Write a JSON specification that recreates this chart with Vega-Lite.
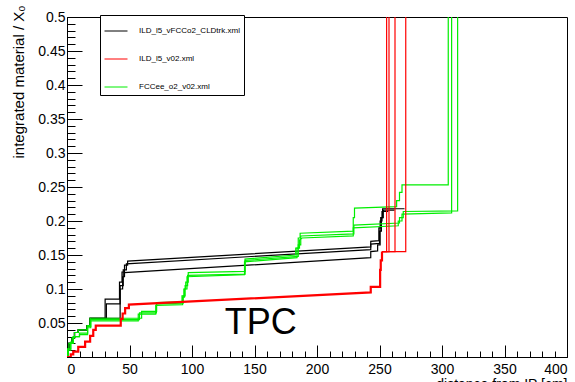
{
"$schema": "https://vega.github.io/schema/vega-lite/v6.json",
"width": 500, "height": 340,
"autosize": "none",
"padding": {"left": 67, "top": 17, "right": 8, "bottom": 25},
"background": "white",
"config": {
  "view": {"stroke": "black", "strokeWidth": 1},
  "axis": {"labelFont": "Liberation Sans", "labelFontSize": 14, "labelColor": "black", "tickColor": "black", "tickWidth": 1, "domain": false, "grid": false, "titleFont": "Liberation Sans", "titleColor": "black", "titleFontWeight": "normal"}
},
"datasets": {
  "ser": [
    {"s": "B1", "m": "ILD_l5_vFCCo2_CLDtrk.xml"}, {"s": "B2", "m": "ILD_l5_vFCCo2_CLDtrk.xml"}, {"s": "B3", "m": "ILD_l5_vFCCo2_CLDtrk.xml"},
    {"s": "R0", "m": "ILD_l5_v02.xml"}, {"s": "R1", "m": "ILD_l5_v02.xml"}, {"s": "R2", "m": "ILD_l5_v02.xml"}, {"s": "R3", "m": "ILD_l5_v02.xml"}, {"s": "R4", "m": "ILD_l5_v02.xml"},
    {"s": "G1", "m": "FCCee_o2_v02.xml"}, {"s": "G2", "m": "FCCee_o2_v02.xml"}, {"s": "G3", "m": "FCCee_o2_v02.xml"}
  ],
  "pts": [
    {"s":"B1","x":0,"y":0},{"s":"B1","x":0.5,"y":0},{"s":"B1","x":0.5,"y":0.012},{"s":"B1","x":1.5,"y":0.012},{"s":"B1","x":1.5,"y":0.02},{"s":"B1","x":4,"y":0.02},{"s":"B1","x":4,"y":0.028},{"s":"B1","x":6,"y":0.028},{"s":"B1","x":6,"y":0.036},{"s":"B1","x":9,"y":0.036},{"s":"B1","x":9,"y":0.04},{"s":"B1","x":16,"y":0.04},{"s":"B1","x":16,"y":0.046},{"s":"B1","x":18.4,"y":0.046},{"s":"B1","x":18.4,"y":0.057},{"s":"B1","x":30.5,"y":0.057},{"s":"B1","x":30.5,"y":0.085},{"s":"B1","x":42,"y":0.085},{"s":"B1","x":42,"y":0.11},{"s":"B1","x":44,"y":0.11},{"s":"B1","x":44,"y":0.125},{"s":"B1","x":46,"y":0.125},{"s":"B1","x":46,"y":0.135},{"s":"B1","x":48.5,"y":0.135},{"s":"B1","x":48.5,"y":0.141},{"s":"B1","x":243,"y":0.162},{"s":"B1","x":243,"y":0.17},{"s":"B1","x":249.5,"y":0.171},{"s":"B1","x":249.5,"y":0.19},{"s":"B1","x":251,"y":0.19},{"s":"B1","x":251,"y":0.205},{"s":"B1","x":252.5,"y":0.205},{"s":"B1","x":252.5,"y":0.218},{"s":"B1","x":270,"y":0.218},
    {"s":"B2","x":0,"y":0},{"s":"B2","x":0.5,"y":0},{"s":"B2","x":0.5,"y":0.012},{"s":"B2","x":1.5,"y":0.012},{"s":"B2","x":1.5,"y":0.02},{"s":"B2","x":4,"y":0.02},{"s":"B2","x":4,"y":0.028},{"s":"B2","x":6,"y":0.028},{"s":"B2","x":6,"y":0.036},{"s":"B2","x":9,"y":0.036},{"s":"B2","x":9,"y":0.04},{"s":"B2","x":16,"y":0.04},{"s":"B2","x":16,"y":0.046},{"s":"B2","x":18.4,"y":0.046},{"s":"B2","x":18.4,"y":0.057},{"s":"B2","x":31.5,"y":0.057},{"s":"B2","x":31.5,"y":0.078},{"s":"B2","x":42.5,"y":0.078},{"s":"B2","x":42.5,"y":0.105},{"s":"B2","x":45,"y":0.105},{"s":"B2","x":45,"y":0.128},{"s":"B2","x":47.5,"y":0.128},{"s":"B2","x":47.5,"y":0.137},{"s":"B2","x":243,"y":0.158},{"s":"B2","x":243,"y":0.166},{"s":"B2","x":250,"y":0.167},{"s":"B2","x":250,"y":0.185},{"s":"B2","x":251.5,"y":0.185},{"s":"B2","x":251.5,"y":0.205},{"s":"B2","x":253,"y":0.205},{"s":"B2","x":253,"y":0.216},{"s":"B2","x":262,"y":0.216},
    {"s":"B3","x":0,"y":0},{"s":"B3","x":0.5,"y":0},{"s":"B3","x":0.5,"y":0.012},{"s":"B3","x":1.5,"y":0.012},{"s":"B3","x":1.5,"y":0.02},{"s":"B3","x":4,"y":0.02},{"s":"B3","x":4,"y":0.028},{"s":"B3","x":6,"y":0.028},{"s":"B3","x":6,"y":0.036},{"s":"B3","x":9,"y":0.036},{"s":"B3","x":9,"y":0.04},{"s":"B3","x":16,"y":0.04},{"s":"B3","x":16,"y":0.046},{"s":"B3","x":18.4,"y":0.046},{"s":"B3","x":18.4,"y":0.057},{"s":"B3","x":42.5,"y":0.057},{"s":"B3","x":42.5,"y":0.1},{"s":"B3","x":44.5,"y":0.1},{"s":"B3","x":44.5,"y":0.118},{"s":"B3","x":46,"y":0.118},{"s":"B3","x":46,"y":0.124},{"s":"B3","x":243,"y":0.146},{"s":"B3","x":243,"y":0.155},{"s":"B3","x":248.5,"y":0.156},{"s":"B3","x":248.5,"y":0.165},{"s":"B3","x":250.5,"y":0.165},{"s":"B3","x":250.5,"y":0.2},{"s":"B3","x":252,"y":0.2},{"s":"B3","x":252,"y":0.214},{"s":"B3","x":257,"y":0.214},
    {"s":"G1","x":0,"y":0},{"s":"G1","x":0.5,"y":0},{"s":"G1","x":0.5,"y":0.012},{"s":"G1","x":1.5,"y":0.012},{"s":"G1","x":1.5,"y":0.02},{"s":"G1","x":4,"y":0.02},{"s":"G1","x":4,"y":0.028},{"s":"G1","x":6,"y":0.028},{"s":"G1","x":6,"y":0.036},{"s":"G1","x":9,"y":0.036},{"s":"G1","x":9,"y":0.04},{"s":"G1","x":16,"y":0.04},{"s":"G1","x":16,"y":0.046},{"s":"G1","x":18.4,"y":0.046},{"s":"G1","x":18.4,"y":0.057},{"s":"G1","x":59.7,"y":0.057},{"s":"G1","x":59.7,"y":0.067},{"s":"G1","x":71.7,"y":0.067},{"s":"G1","x":71.7,"y":0.08},{"s":"G1","x":92,"y":0.081},{"s":"G1","x":92,"y":0.09},{"s":"G1","x":93.5,"y":0.09},{"s":"G1","x":93.5,"y":0.1},{"s":"G1","x":95,"y":0.1},{"s":"G1","x":95,"y":0.11},{"s":"G1","x":97,"y":0.11},{"s":"G1","x":97,"y":0.124},{"s":"G1","x":142.4,"y":0.126},{"s":"G1","x":142.4,"y":0.144},{"s":"G1","x":183,"y":0.15},{"s":"G1","x":183,"y":0.16},{"s":"G1","x":185,"y":0.16},{"s":"G1","x":185,"y":0.175},{"s":"G1","x":186.5,"y":0.175},{"s":"G1","x":186.5,"y":0.182},{"s":"G1","x":229,"y":0.185},{"s":"G1","x":229,"y":0.205},{"s":"G1","x":230,"y":0.205},{"s":"G1","x":230,"y":0.219},{"s":"G1","x":263.7,"y":0.221},{"s":"G1","x":263.7,"y":0.23},{"s":"G1","x":266,"y":0.23},{"s":"G1","x":266,"y":0.242},{"s":"G1","x":268,"y":0.242},{"s":"G1","x":268,"y":0.253},{"s":"G1","x":305,"y":0.253},{"s":"G1","x":305,"y":0.6},
    {"s":"G2","x":0,"y":0},{"s":"G2","x":1,"y":0},{"s":"G2","x":1,"y":0.01},{"s":"G2","x":3,"y":0.01},{"s":"G2","x":3,"y":0.02},{"s":"G2","x":5,"y":0.02},{"s":"G2","x":5,"y":0.03},{"s":"G2","x":10,"y":0.03},{"s":"G2","x":10,"y":0.033},{"s":"G2","x":16.5,"y":0.033},{"s":"G2","x":16.5,"y":0.043},{"s":"G2","x":19,"y":0.043},{"s":"G2","x":19,"y":0.053},{"s":"G2","x":57,"y":0.053},{"s":"G2","x":57,"y":0.063},{"s":"G2","x":71,"y":0.063},{"s":"G2","x":71,"y":0.076},{"s":"G2","x":92.5,"y":0.077},{"s":"G2","x":92.5,"y":0.088},{"s":"G2","x":94,"y":0.088},{"s":"G2","x":94,"y":0.1},{"s":"G2","x":96,"y":0.1},{"s":"G2","x":96,"y":0.118},{"s":"G2","x":142,"y":0.121},{"s":"G2","x":142,"y":0.14},{"s":"G2","x":184,"y":0.146},{"s":"G2","x":184,"y":0.16},{"s":"G2","x":186,"y":0.16},{"s":"G2","x":186,"y":0.172},{"s":"G2","x":188,"y":0.175},{"s":"G2","x":229,"y":0.178},{"s":"G2","x":229,"y":0.19},{"s":"G2","x":265,"y":0.193},{"s":"G2","x":265,"y":0.2},{"s":"G2","x":268,"y":0.2},{"s":"G2","x":268,"y":0.21},{"s":"G2","x":307.7,"y":0.212},{"s":"G2","x":307.7,"y":0.6},
    {"s":"G3","x":0,"y":0},{"s":"G3","x":1,"y":0},{"s":"G3","x":1,"y":0.012},{"s":"G3","x":3,"y":0.012},{"s":"G3","x":3,"y":0.022},{"s":"G3","x":5,"y":0.022},{"s":"G3","x":5,"y":0.03},{"s":"G3","x":10,"y":0.03},{"s":"G3","x":10,"y":0.035},{"s":"G3","x":16.5,"y":0.035},{"s":"G3","x":16.5,"y":0.045},{"s":"G3","x":19,"y":0.045},{"s":"G3","x":19,"y":0.055},{"s":"G3","x":58,"y":0.055},{"s":"G3","x":58,"y":0.065},{"s":"G3","x":71.5,"y":0.065},{"s":"G3","x":71.5,"y":0.078},{"s":"G3","x":93,"y":0.079},{"s":"G3","x":93,"y":0.09},{"s":"G3","x":94.5,"y":0.09},{"s":"G3","x":94.5,"y":0.105},{"s":"G3","x":96.5,"y":0.105},{"s":"G3","x":96.5,"y":0.12},{"s":"G3","x":142.5,"y":0.122},{"s":"G3","x":142.5,"y":0.142},{"s":"G3","x":185,"y":0.148},{"s":"G3","x":185,"y":0.165},{"s":"G3","x":187,"y":0.165},{"s":"G3","x":187,"y":0.178},{"s":"G3","x":229.5,"y":0.181},{"s":"G3","x":229.5,"y":0.194},{"s":"G3","x":266,"y":0.197},{"s":"G3","x":266,"y":0.205},{"s":"G3","x":269,"y":0.205},{"s":"G3","x":269,"y":0.214},{"s":"G3","x":312.5,"y":0.215},{"s":"G3","x":312.5,"y":0.6},
    {"s":"R0","x":0,"y":0},{"s":"R0","x":3,"y":0},{"s":"R0","x":3,"y":0.004},{"s":"R0","x":5,"y":0.004},{"s":"R0","x":5,"y":0.008},{"s":"R0","x":9,"y":0.008},{"s":"R0","x":9,"y":0.015},{"s":"R0","x":14.5,"y":0.015},{"s":"R0","x":14.5,"y":0.0225},{"s":"R0","x":18.5,"y":0.0225},{"s":"R0","x":18.5,"y":0.031},{"s":"R0","x":21,"y":0.031},{"s":"R0","x":21,"y":0.04},{"s":"R0","x":23,"y":0.04},{"s":"R0","x":23,"y":0.046},{"s":"R0","x":43,"y":0.046},{"s":"R0","x":43,"y":0.056},{"s":"R0","x":44.5,"y":0.056},{"s":"R0","x":44.5,"y":0.064},{"s":"R0","x":46.5,"y":0.064},{"s":"R0","x":46.5,"y":0.072},{"s":"R0","x":49.5,"y":0.072},{"s":"R0","x":49.5,"y":0.077},{"s":"R0","x":243,"y":0.095},{"s":"R0","x":243,"y":0.103},{"s":"R0","x":250.5,"y":0.103},{"s":"R0","x":250.5,"y":0.128},{"s":"R0","x":251,"y":0.128},{"s":"R0","x":251,"y":0.142},{"s":"R0","x":252,"y":0.142},{"s":"R0","x":252,"y":0.155},
    {"s":"R1","x":252,"y":0.155},{"s":"R1","x":255.7,"y":0.155},{"s":"R1","x":255.7,"y":0.6},
    {"s":"R2","x":252,"y":0.155},{"s":"R2","x":257.6,"y":0.155},{"s":"R2","x":257.6,"y":0.6},
    {"s":"R3","x":252,"y":0.155},{"s":"R3","x":262.4,"y":0.155},{"s":"R3","x":262.4,"y":0.6},
    {"s":"R4","x":252,"y":0.155},{"s":"R4","x":271,"y":0.155},{"s":"R4","x":271,"y":0.6}
  ]
},
"resolve": {"axis": {"x": "independent", "y": "independent"}},
"layer": [
  {
    "data": {"name": "pts"},
    "transform": [
      {"filter": "indexof(datum.s, 'B') == 0"},
      {"lookup": "s", "from": {"data": {"name": "ser"}, "key": "s", "fields": ["m"]}}
    ],
    "mark": {"type": "line", "clip": true, "strokeWidth": 1.2},
    "encoding": {
      "x": {"field": "x", "type": "quantitative", "scale": {"domain": [0, 400], "nice": false},
        "axis": {"orient": "bottom", "values": [0, 50, 100, 150, 200, 250, 300, 350, 400], "tickSize": -12, "labelPadding": 17, "labelBaseline": "top", "format": "d",
          "title": "distance from IP [cm]", "titleFontSize": 14, "titleX": 500, "titleY": 20, "titleAlign": "right", "titleBaseline": "top", "titleAnchor": null}},
      "y": {"field": "y", "type": "quantitative", "scale": {"domain": [0, 0.5], "nice": false},
        "axis": {"orient": "left", "values": [0, 0.05, 0.1, 0.15, 0.2, 0.25, 0.3, 0.35, 0.4, 0.45, 0.5], "tickSize": -15, "labelPadding": 17, "format": "~g",
          "labelExpr": "datum.value == 0 ? '' : datum.label",
          "title": "integrated material / X₀", "titleFontSize": 15, "titleAngle": -90, "titleX": -44, "titleY": -12, "titleAlign": "right", "titleBaseline": "alphabetic", "titleAnchor": null}},
      "color": {"field": "m", "type": "nominal", "title": null,
        "scale": {"domain": ["ILD_l5_vFCCo2_CLDtrk.xml", "ILD_l5_v02.xml", "FCCee_o2_v02.xml"], "range": ["#000000", "#ff0000", "#00ee00"]},
        "legend": {"orient": "none", "legendX": 33, "legendY": -2, "padding": 4, "strokeColor": "black", "fillColor": "white", "symbolType": "stroke", "symbolSize": 529, "symbolStrokeWidth": 1, "labelFont": "Liberation Sans", "labelFontSize": 8, "labelColor": "black", "labelOffset": 11, "rowPadding": 12}},
      "detail": {"field": "s", "type": "nominal"},
      "order": {"value": null}
    }
  },
  {
    "data": {"name": "pts"},
    "transform": [
      {"filter": "indexof(datum.s, 'G') == 0"},
      {"lookup": "s", "from": {"data": {"name": "ser"}, "key": "s", "fields": ["m"]}}
    ],
    "mark": {"type": "line", "clip": true, "strokeWidth": 1.2},
    "encoding": {
      "x": {"field": "x", "type": "quantitative", "axis": null},
      "y": {"field": "y", "type": "quantitative", "axis": null},
      "color": {"field": "m", "type": "nominal", "title": null,
        "legend": {"orient": "none", "legendX": 33, "legendY": -2, "padding": 4, "strokeColor": "black", "fillColor": "white", "symbolType": "stroke", "symbolSize": 529, "symbolStrokeWidth": 1, "labelFont": "Liberation Sans", "labelFontSize": 8, "labelColor": "black", "labelOffset": 11, "rowPadding": 12}},
      "detail": {"field": "s", "type": "nominal"},
      "order": {"value": null}
    }
  },
  {
    "data": {"name": "pts"},
    "transform": [
      {"filter": "indexof(datum.s, 'R') == 0 && datum.s != 'R0'"},
      {"lookup": "s", "from": {"data": {"name": "ser"}, "key": "s", "fields": ["m"]}}
    ],
    "mark": {"type": "line", "clip": true, "strokeWidth": 1.2},
    "encoding": {
      "x": {"field": "x", "type": "quantitative", "axis": null},
      "y": {"field": "y", "type": "quantitative", "axis": null},
      "color": {"field": "m", "type": "nominal", "title": null,
        "legend": {"orient": "none", "legendX": 33, "legendY": -2, "padding": 4, "strokeColor": "black", "fillColor": "white", "symbolType": "stroke", "symbolSize": 529, "symbolStrokeWidth": 1, "labelFont": "Liberation Sans", "labelFontSize": 8, "labelColor": "black", "labelOffset": 11, "rowPadding": 12}},
      "detail": {"field": "s", "type": "nominal"},
      "order": {"value": null}
    }
  },
  {
    "data": {"name": "pts"},
    "transform": [
      {"filter": "datum.s == 'R0'"},
      {"lookup": "s", "from": {"data": {"name": "ser"}, "key": "s", "fields": ["m"]}}
    ],
    "mark": {"type": "line", "clip": true, "strokeWidth": 2.2},
    "encoding": {
      "x": {"field": "x", "type": "quantitative", "axis": null},
      "y": {"field": "y", "type": "quantitative", "axis": null},
      "color": {"field": "m", "type": "nominal", "title": null,
        "legend": {"orient": "none", "legendX": 33, "legendY": -2, "padding": 4, "strokeColor": "black", "fillColor": "white", "symbolType": "stroke", "symbolSize": 529, "symbolStrokeWidth": 1, "labelFont": "Liberation Sans", "labelFontSize": 8, "labelColor": "black", "labelOffset": 11, "rowPadding": 12}},
      "detail": {"field": "s", "type": "nominal"},
      "order": {"value": null}
    }
  },
  {
    "data": {"values": [{"label": "TPC", "x": 155, "y": 0.034}]},
    "mark": {"type": "text", "font": "Liberation Sans", "fontSize": 36, "color": "black", "align": "center", "baseline": "alphabetic"},
    "encoding": {
      "x": {"field": "x", "type": "quantitative",
        "axis": {"orient": "bottom", "values": [0,10,20,30,40,50,60,70,80,90,100,110,120,130,140,150,160,170,180,190,200,210,220,230,240,250,260,270,280,290,300,310,320,330,340,350,360,370,380,390,400], "tickSize": -6, "labels": false, "title": null}},
      "y": {"field": "y", "type": "quantitative",
        "axis": {"orient": "left", "values": [0,0.01,0.02,0.03,0.04,0.05,0.06,0.07,0.08,0.09,0.1,0.11,0.12,0.13,0.14,0.15,0.16,0.17,0.18,0.19,0.2,0.21,0.22,0.23,0.24,0.25,0.26,0.27,0.28,0.29,0.3,0.31,0.32,0.33,0.34,0.35,0.36,0.37,0.38,0.39,0.4,0.41,0.42,0.43,0.44,0.45,0.46,0.47,0.48,0.49,0.5], "tickSize": -8, "labels": false, "title": null}},
      "text": {"field": "label"}
    }
  }
]
}
